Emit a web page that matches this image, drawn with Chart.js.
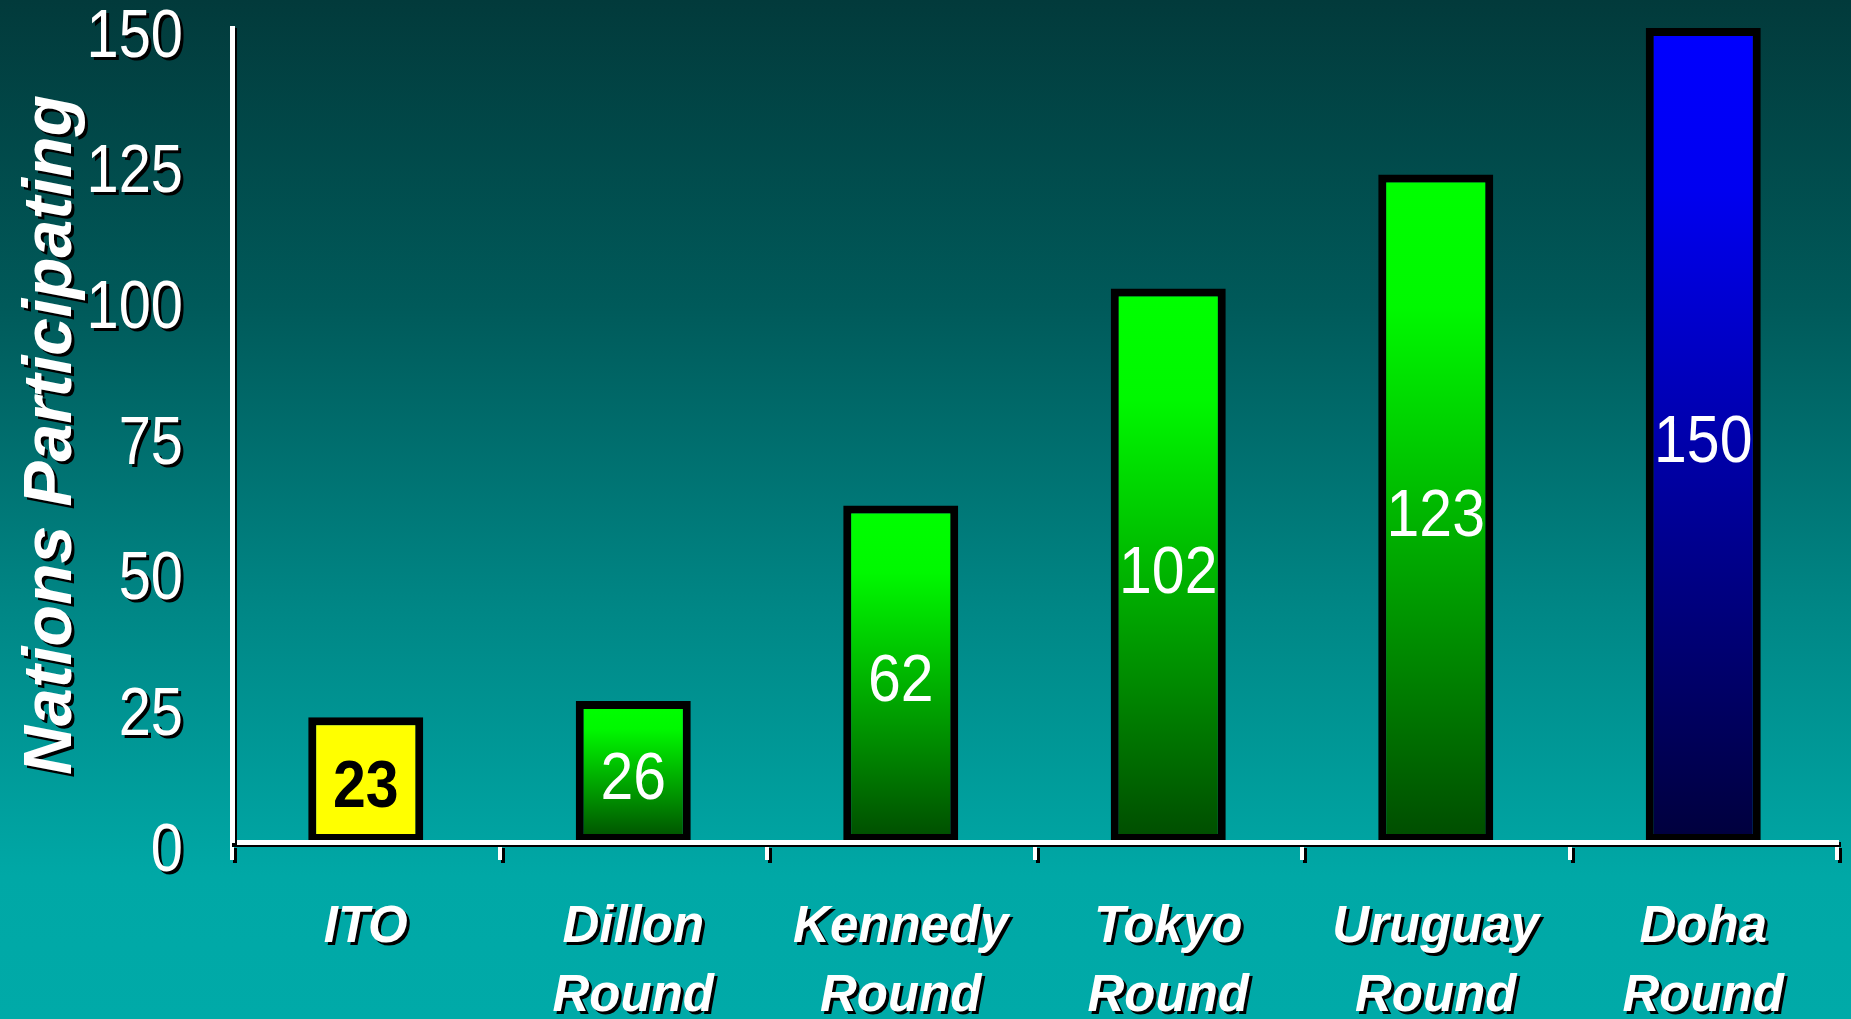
<!DOCTYPE html>
<html><head><meta charset="utf-8">
<script src="https://cdn.jsdelivr.net/npm/chart.js@4.4.1/dist/chart.umd.min.js"></script>
<style>
html,body{margin:0;padding:0;width:1851px;height:1019px;overflow:hidden;
background:linear-gradient(to bottom,#023a3b 0%,#005a5a 30%,#008786 60%,#00a8a6 86%,#00aaa8 100%);}
#wrap{width:1851px;height:1019px;position:relative}
</style></head><body>
<div id="wrap"><canvas id="c"></canvas></div>
<script>
const categories = ['ITO', ['Dillon','Round'], ['Kennedy','Round'], ['Tokyo','Round'], ['Uruguay','Round'], ['Doha','Round']];
const nations = [23, 26, 62, 102, 123, 150];
const yMin = 0, yMax = 150, yStep = 25;
const yTitle = 'Nations Participating';

const FONT = "'Liberation Sans',Arial,sans-serif";

// per-bar colour schemes: [top, upper, bottom]
const schemes = [
  ['#ffff00','#ffff00','#ffff00'],
  ['#00ff00','#00f800','#004c00'],
  ['#00ff00','#00f800','#004c00'],
  ['#00ff00','#00f800','#004c00'],
  ['#00ff00','#00f800','#004c00'],
  ['#0000ff','#0000f0','#00003c']
];
const labelStyles = [
  {color:'#000', weight:'bold'},
  {color:'#fff', weight:'normal'},
  {color:'#fff', weight:'normal'},
  {color:'#fff', weight:'normal'},
  {color:'#fff', weight:'normal'},
  {color:'#fff', weight:'normal'}
];

function barFill(ctx){
  const c = ctx.chart, i = ctx.dataIndex, s = schemes[i];
  if (!c.chartArea || !c.scales.y) return s[0];
  const y = c.scales.y;
  const top = y.getPixelForValue(nations[i]), bot = y.getPixelForValue(0);
  const g = c.ctx.createLinearGradient(0, top, 0, bot);
  g.addColorStop(0, s[0]); g.addColorStop(0.2, s[1]); g.addColorStop(1, s[2]);
  return g;
}

function setShadow(x, on, off){
  x.shadowColor = on ? '#000' : 'rgba(0,0,0,0)';
  x.shadowOffsetX = on ? off : 0; x.shadowOffsetY = on ? off : 0; x.shadowBlur = 0;
}

// condensed text helper (the original uses horizontally squeezed Arial)
function squeezed(x, text, px, py, sx, align){
  x.save();
  x.translate(px, py);
  x.scale(sx, 1);
  x.textAlign = align;
  x.textBaseline = 'middle';
  x.fillText(text, 0, 0);
  x.restore();
}

const fx = {
  id:'fx',
  beforeDraw(c){ setShadow(c.ctx, true, 3); },
  beforeDatasetsDraw(c){
    const x = c.ctx, ys = c.scales.y;
    x.save();
    x.font = '68px ' + FONT;
    x.fillStyle = '#fff';
    ys.ticks.forEach(t => {
      squeezed(x, String(t.value), ys.right - 49, ys.getPixelForValue(t.value) + 10, 0.85, 'right');
    });
    x.restore();
    setShadow(x, false);
  },
  afterDatasetsDraw(c){
    const x = c.ctx, meta = c.getDatasetMeta(0);
    x.save();
    meta.data.forEach((el, i) => {
      const p = el.getProps(['x','y','base'], true);
      const st = labelStyles[i];
      x.font = st.weight + ' 67px ' + FONT;
      x.fillStyle = st.color;
      squeezed(x, String(nations[i]), p.x, (p.y + p.base) / 2 + 9, 0.88, 'center');
    });
    x.restore();
    setShadow(x, true, 2);
  },
  afterDraw(c){ setShadow(c.ctx, false); }
};

new Chart(document.getElementById('c'), {
  type: 'bar',
  data: {
    labels: categories,
    datasets: [{
      data: nations,
      backgroundColor: barFill,
      borderColor: '#000',
      borderWidth: 8,
      borderSkipped: false,
      barPercentage: 0.43,
      categoryPercentage: 1
    }]
  },
  options: {
    responsive: true,
    maintainAspectRatio: false,
    animation: false,
    events: [],
    layout: { padding: { top: 28, right: 14, left: 0, bottom: 0 } },
    plugins: { legend: {display:false}, tooltip: {enabled:false}, title: {display:false} },
    scales: {
      x: {
        offset: true,
        grid: { display: true, drawOnChartArea: false, drawTicks: true, tickLength: 18, color: '#fff', lineWidth: 4, offset: true },
        border: { display: true, color: '#fff', width: 5, z: 1 },
        ticks: { color: '#fff', padding: 33, maxRotation: 0, autoSkip: false,
                 font: { family: FONT, size: 51, weight: 'bold', style: 'italic', lineHeight: '69px' } },
        afterFit(s){ s.height = 177; }
      },
      y: {
        min: yMin, max: yMax,
        grid: { display: false, drawTicks: false },
        border: { display: true, color: '#fff', width: 5, z: 1 },
        ticks: { stepSize: yStep, display: false },
        title: { display: true, text: yTitle, color: '#fff', padding: { top: 18, bottom: 0 },
                 font: { family: FONT, size: 68, weight: 'bold', style: 'italic', lineHeight: 1 } },
        afterFit(s){ s.width = 232; s.paddingTop = 0; s.paddingBottom = 0; }
      }
    }
  },
  plugins: [fx]
});
</script>
</body></html>
